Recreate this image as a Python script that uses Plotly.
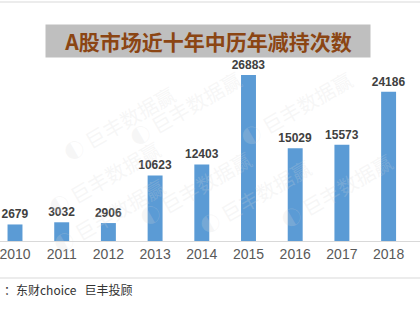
import plotly.graph_objects as go

years = ["2010", "2011", "2012", "2013", "2014", "2015", "2016", "2017", "2018", "2019"]
counts = [2679, 3032, 2906, 10623, 12403, 26883, 15029, 15573, 24186, 27500]

title_text = "A股市场近十年中历年减持次数"
source_text = "：东财choice   巨丰投顾"
watermark = "巨丰数据赢"

W, H = 420, 315
base_px = 241  # axis baseline from top

fig = go.Figure()
fig.add_trace(go.Bar(
    x=years, y=counts,
    marker=dict(color="#5B9BD5", line=dict(width=0)),
    width=0.32,
    text=[str(v) for v in counts],
    textposition="outside",
    constraintext="none",
    textfont=dict(family="Liberation Sans, Arial", size=12, color="#404040", weight="bold"),
    cliponaxis=False,
))

# watermarks (faint, rotated)
wm_pos = [(55, 77), (185, 108), (360, 108), (40, 178), (195, 188), (400, 190), (45, 262), (255, 243)]
annots = []
for (px, py) in wm_pos:
    annots.append(dict(
        x=px / W, y=1 - py / H, xref="paper", yref="paper",
        text="◐ " + watermark, showarrow=False, textangle=-30,
        font=dict(family="Noto Sans CJK SC", size=20, color="rgba(215,215,215,0.22)"),
    ))

annots.append(dict(
    x=208 / W, y=1 - 24 / H, xref="paper", yref="paper",
    text="<b>" + title_text + "</b>", showarrow=False,
    font=dict(family="Noto Sans CJK SC", size=21, color="#8B4513"),
    bgcolor="#BFBFBF", width=324, height=32, borderpad=0,
))
annots.append(dict(
    x=2 / W, y=1 - 300 / H, xref="paper", yref="paper", xanchor="left",
    text=source_text, showarrow=False,
    font=dict(family="Noto Sans CJK SC", size=12, color="#333333"),
))

shapes = [
    dict(type="line", xref="paper", yref="paper", x0=0, x1=1, y0=1 - 2 / H, y1=1 - 2 / H,
         line=dict(color="#D9D9D9", width=1)),
    dict(type="line", xref="paper", yref="paper", x0=0, x1=1, y0=1 - 278 / H, y1=1 - 278 / H,
         line=dict(color="#D9D9D9", width=1)),
]

spacing = 46.7
r0 = -15 / spacing
r1 = r0 + W / spacing
ymax = base_px / 0.006175

fig.update_layout(
    width=W, height=H,
    margin=dict(l=0, r=0, t=0, b=0),
    paper_bgcolor="white", plot_bgcolor="white",
    showlegend=False,
    annotations=annots,
    shapes=shapes,
    xaxis=dict(type="category", range=[r0, r1], showgrid=False, showline=True,
               linecolor="#D9D9D9", linewidth=1, ticks="",
               tickfont=dict(family="Liberation Sans, Arial", size=14, color="#595959"),
               fixedrange=True),
    yaxis=dict(domain=[1 - base_px / H, 1], range=[0, ymax], visible=False,
               showgrid=False, fixedrange=True),
)

fig.write_html("out.html")
